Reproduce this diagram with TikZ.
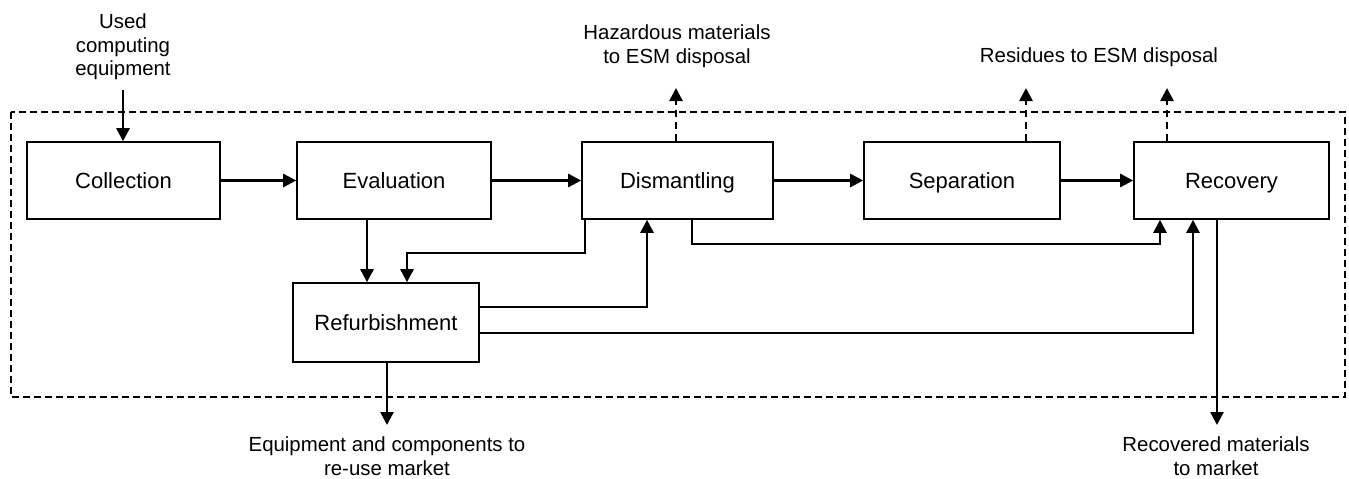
\documentclass[tikz,border=0pt]{standalone}
\usepackage{fontspec}
\setmainfont{Liberation Sans}
\usetikzlibrary{arrows.meta,calc}
\begin{document}
\begin{tikzpicture}[x=1pt,y=-1pt,
  txt/.style={font=\fontsize{20.4}{23.5}\selectfont, align=center, inner sep=0pt},
  box/.style={draw, line width=1.6pt, inner sep=0pt, font=\fontsize{22}{26}\selectfont,
    text height=15.8pt, text depth=0pt, minimum height=77pt, minimum width=#1},
  arr/.style={line width=2.6pt, -{Triangle[length=13pt,width=13pt]}},
  darr/.style={arr, dash pattern=on 7pt off 5pt},
  frame/.style={line width=1.1pt, dash pattern=on 7pt off 4pt}]
\useasboundingbox (0,0) rectangle (1349,479);
\draw[frame] (11,112) rectangle (1345,397);
% boxes
\node[box=193pt] (col) at (123.5,180.5) {Collection};
\node[box=194pt] (eva) at (394,180.5) {Evaluation};
\node[box=191pt] (dis) at (677.5,180.5) {Dismantling};
\node[box=196pt] (sep) at (962,180.5) {Separation};
\node[box=195pt] (rec) at (1231.5,180.5) {Recovery};
\node[box=186pt, minimum height=79pt] (ref) at (386,322.5) {Refurbishment};
% outside labels
\node[txt] (in) at (123,47) {Used\\computing\\equipment};
\node[txt] (haz) at (677,46) {Hazardous materials\\to ESM disposal};
\node[txt] (res) at (1099,57) {Residues to ESM disposal};
\node[txt] (eqp) at (387,456) {Equipment and components to\\re-use market};
\node[txt] (rmk) at (1216,456) {Recovered materials\\to market};
\coordinate (inS) at (123,90);
\coordinate (hazS) at (676,88);
\coordinate (resA) at (1026,88);
\coordinate (resB) at (1167,88);
\coordinate (eqpN) at (387,425);
\coordinate (rmkN) at (1217,425);
% main flow
\draw[arr] (inS) -- (inS |- col.north);
\draw[arr] (col) -- (eva);
\draw[arr] (eva) -- (dis);
\draw[arr] (dis) -- (sep);
\draw[arr] (sep) -- (rec);
% disposal (dashed)
\draw[darr] (dis.north -| hazS) -- (hazS);
\draw[darr] (sep.north -| resA) -- (resA);
\draw[darr] (rec.north -| resB) -- (resB);
% evaluation -> refurbishment
\draw[arr] ([xshift=-27pt]eva.south) -- ([xshift=-27pt]eva.south |- ref.north);
% dismantling -> refurbishment
\draw[arr] ([xshift=-92.5pt]dis.south) -- ++(0,33) -| ([xshift=21pt]ref.north);
% refurbishment -> dismantling
\draw[arr] ([yshift=15.5pt]ref.east) -| ([xshift=-30.5pt]dis.south);
% dismantling -> recovery
\draw[arr] ([xshift=14.5pt]dis.south) -- ++(0,24) -| ([xshift=-71.5pt]rec.south);
% refurbishment -> recovery
\draw[arr] ([yshift=-10.5pt]ref.east) -| ([xshift=-38.5pt]rec.south);
% outputs
\draw[arr] (ref.south -| eqpN) -- (eqpN);
\draw[arr] (rec.south -| rmkN) -- (rmkN);
\end{tikzpicture}
\end{document}
